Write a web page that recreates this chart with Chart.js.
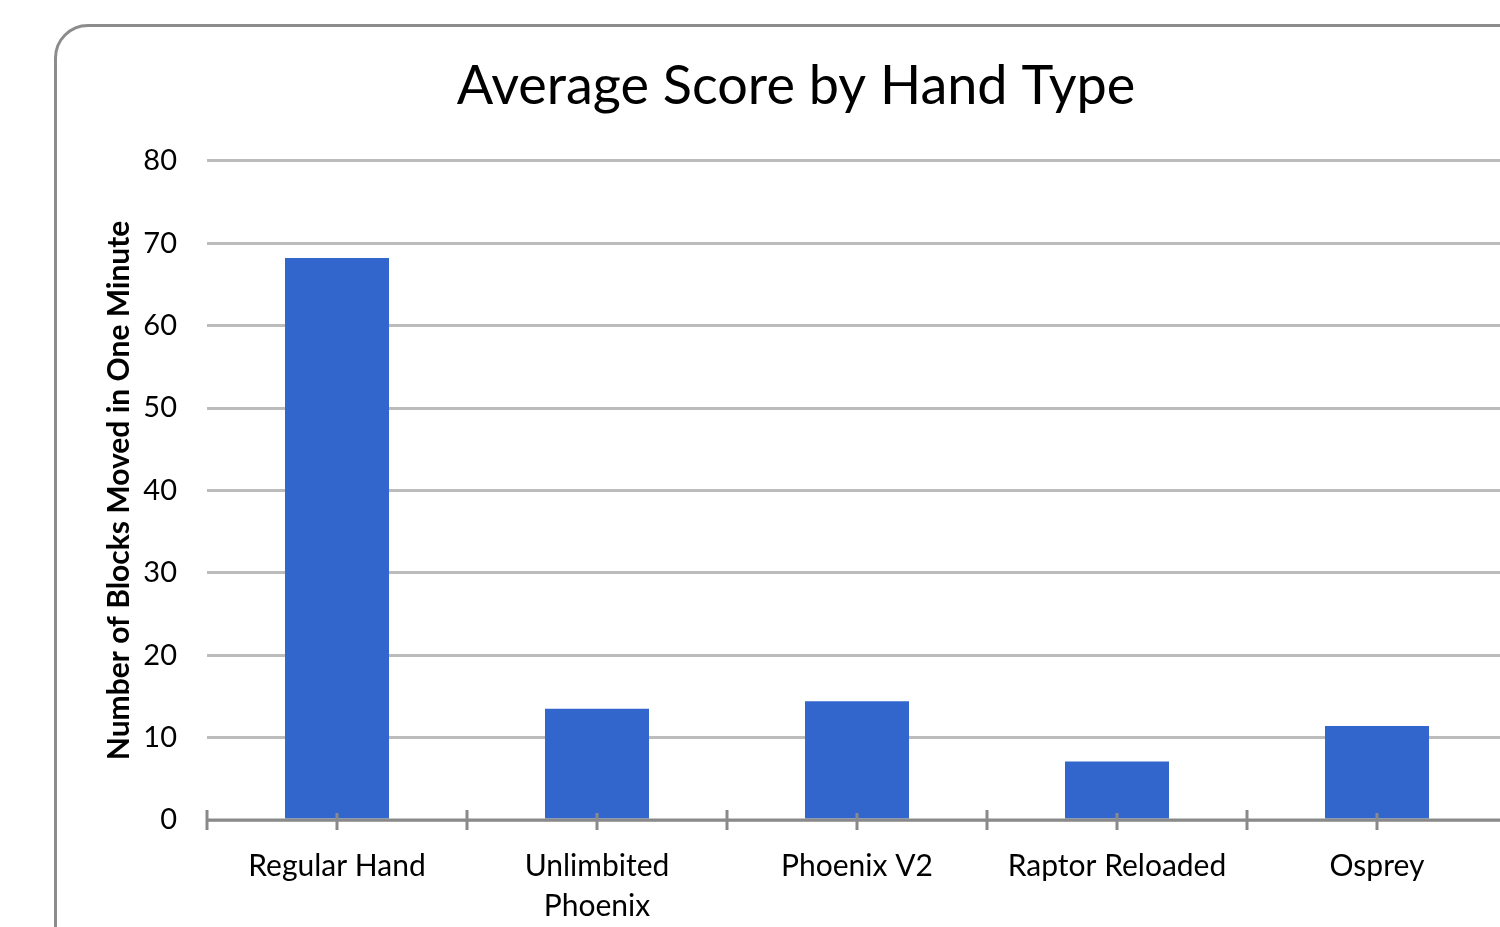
<!DOCTYPE html>
<html>
<head>
<meta charset="utf-8">
<script src="https://cdn.jsdelivr.net/npm/chart.js@4.4.1/dist/chart.umd.min.js"></script>
<style>
  html, body { margin: 0; padding: 0; background: #fff; overflow: hidden; }
  body { width: 1500px; height: 927px; position: relative; }
  #frame {
    position: absolute; left: 54px; top: 24px;
    width: 1600px; height: 1100px;
    border: 3px solid #8c8c8c; border-radius: 34px;
    box-sizing: border-box;
  }
  #wrap { position: absolute; left: 0; top: 0; width: 1507px; height: 927px; }
</style>
</head>
<body>
<div id="frame"></div>
<div id="wrap"><canvas id="chart"></canvas></div>
<script>
const handTypes = ['Regular Hand', ['Unlimbited', 'Phoenix'], 'Phoenix V2', 'Raptor Reloaded', 'Osprey'];
const avgScores = [68.2, 13.5, 14.4, 7.1, 11.4];
const yMin = 0;
const yMax = 80;
const yStep = 10;

// axis line plus the two kinds of tick marks, drawn on top of the bars
const axisMarks = {
    id: 'axisMarks',
    afterDatasetsDraw(chart) {
        const {ctx, chartArea, scales: {x, y}} = chart;
        const y0 = y.getPixelForValue(0);
        const catW = x.getPixelForValue(1) - x.getPixelForValue(0);
        ctx.save();
        ctx.strokeStyle = '#8a8a8a';
        ctx.lineWidth = 3;
        ctx.beginPath();
        ctx.moveTo(chartArea.left, y0);
        ctx.lineTo(chartArea.right + 10, y0);
        for (let i = 0; i <= handTypes.length; i++) {
            const bx = x.getPixelForValue(0) - catW / 2 + i * catW;
            ctx.moveTo(bx, y0 - 10);
            ctx.lineTo(bx, y0 + 10);
        }
        handTypes.forEach((_, i) => {
            const cx = x.getPixelForValue(i);
            ctx.moveTo(cx, y0 - 7);
            ctx.lineTo(cx, y0 + 10);
        });
        ctx.stroke();
        ctx.restore();
    }
};

const ctx = document.getElementById('chart').getContext('2d');
new Chart(ctx, {
    type: 'bar',
    data: {
        labels: handTypes,
        datasets: [{
            label: 'Average Score',
            data: avgScores,
            backgroundColor: '#3366cc',
            borderWidth: 0,
            categoryPercentage: 1,
            barPercentage: 0.4
        }]
    },
    options: {
        responsive: true,
        maintainAspectRatio: false,
        animation: false,
        layout: { padding: { left: 85, right: 0, top: 0, bottom: 0 } },
        plugins: {
            legend: { display: false },
            tooltip: { enabled: false },
            title: {
                display: true,
                text: 'Average Score by Hand Type',
                color: '#000',
                font: { family: 'Lato', size: 54, weight: 'normal' },
                padding: { top: 54, bottom: 42 }
            }
        },
        scales: {
            x: {
                grid: { display: false },
                border: { display: false },
                ticks: {
                    color: '#000',
                    padding: 18,
                    maxRotation: 0,
                    autoSkip: false,
                    font: { family: 'Lato', size: 30, lineHeight: 1.33 }
                },
                afterFit(scale) { scale.height = 107; }
            },
            y: {
                min: yMin,
                max: yMax,
                ticks: {
                    stepSize: yStep,
                    color: '#000',
                    padding: 30,
                    font: { family: 'Lato', size: 29 }
                },
                grid: { color: '#bcbcbc', lineWidth: 3, drawTicks: false },
                border: { display: false },
                title: {
                    display: true,
                    text: 'Number of Blocks Moved in One Minute',
                    color: '#000',
                    font: { family: 'Lato', size: 30, weight: 'bold' },
                    padding: { top: 16, bottom: 0 }
                },
                afterFit(scale) { scale.width = 122; }
            }
        }
    },
    plugins: [axisMarks]
});
</script>
</body>
</html>
